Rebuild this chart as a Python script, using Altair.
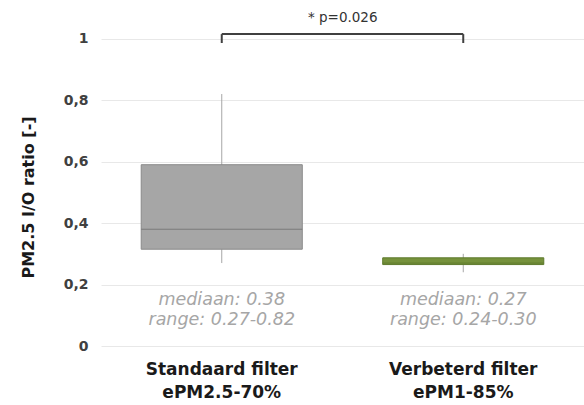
import altair as alt
import pandas as pd

# Box statistics per filter type
groups = ["Standaard filter|ePM2.5-70%", "Verbeterd filter|ePM1-85%"]
q1 = [0.315, 0.265]
q3 = [0.59, 0.287]
median = [0.38, 0.27]
lo = [0.27, 0.24]
hi = [0.82, 0.30]
box_fill = ["#a6a6a6", "#76923c"]
box_stroke = ["#8a8a8a", "#5e7a2c"]
median_color = ["#666666", "#5e7a2c"]
p_label = "* p=0.026"

df = pd.DataFrame({
    "group": groups, "q1": q1, "q3": q3, "median": median,
    "lo": lo, "hi": hi, "fill": box_fill, "stroke": box_stroke,
    "mcol": median_color,
})
df["line1"] = [f"mediaan: {m:.2f}" for m in median]
df["line2"] = [f"range: {a:.2f}-{b:.2f}" for a, b in zip(lo, hi)]

FONT = "DejaVu Sans"

x_scale = alt.Scale(domain=groups, paddingInner=0, paddingOuter=0)
x_axis = alt.Axis(
    title=None, labelExpr="split(datum.label, '|')", labelAngle=0,
    labelFont=FONT, labelFontWeight="bold", labelFontSize=17,
    labelColor="#1a1a1a", labelPadding=15, labelLineHeight=23,
    labelBaseline="top", domain=False, ticks=False, grid=False,
)
x = alt.X("group:N", scale=x_scale, axis=x_axis)

yscale = alt.Scale(domain=[0, 1.1], nice=False, zero=True)
y_axis = alt.Axis(
    values=[0, 0.2, 0.4, 0.6, 0.8, 1.0],
    labelExpr="datum.value == 0 ? '0' : datum.value == 1 ? '1' : replace(format(datum.value, '.1f'), '.', ',')",
    title="PM2.5 I/O ratio [-]", titleFont=FONT, titleFontSize=16,
    titleFontWeight="bold", titleColor="#1a1a1a", titleX=-73, titleY=189,
    titleAngle=-90, titleAlign="center", titleBaseline="middle",
    labelFont=FONT, labelFontSize=14, labelFontWeight="bold",
    labelColor="#404040", labelPadding=13,
    domain=False, ticks=False, grid=True, gridColor="#e8e8e8",
)

base = alt.Chart(df)

whisker = base.mark_rule(color="#a6a6a6", strokeWidth=1).encode(
    x=x, y=alt.Y("lo:Q", scale=yscale, axis=y_axis), y2="hi:Q"
)

box = base.mark_bar(width={"band": 0.667}, strokeWidth=1).encode(
    x=x, y=alt.Y("q1:Q", scale=yscale), y2="q3:Q",
    fill=alt.Fill("fill:N", scale=None),
    stroke=alt.Stroke("stroke:N", scale=None),
)

med = base.mark_tick(orient="horizontal", size=161, thickness=1.2).encode(
    x=x, y=alt.Y("median:Q", scale=yscale),
    color=alt.Color("mcol:N", scale=None),
)

note_style = dict(font=FONT, fontSize=17.5, fontStyle="italic", color="#a6a6a6")
note1 = base.mark_text(**note_style).encode(
    x=x, y=alt.Y(datum=0.15, scale=yscale), text="line1:N"
)
note2 = base.mark_text(**note_style).encode(
    x=x, y=alt.Y(datum=0.083, scale=yscale), text="line2:N"
)

# Significance bracket between the two groups
bracket_df = pd.DataFrame({"a": [groups[0]], "b": [groups[1]], "yb": [1.015]})
ends_df = pd.DataFrame({"group": groups, "y0": [0.986, 0.986], "y1": [1.015, 1.015]})

bar_top = alt.Chart(bracket_df).mark_rule(color="#404040", strokeWidth=2).encode(
    x=alt.X("a:N", scale=x_scale, axis=x_axis),
    x2="b:N",
    y=alt.Y("yb:Q", scale=yscale),
)
bar_ends = alt.Chart(ends_df).mark_rule(color="#404040", strokeWidth=2).encode(
    x=x, y=alt.Y("y0:Q", scale=yscale), y2="y1:Q"
)
p_text = alt.Chart(bracket_df).mark_text(
    font=FONT, fontSize=13.5, color="#333333", dx=121
).encode(
    x=alt.X("a:N", scale=x_scale, axis=x_axis),
    y=alt.Y(datum=1.068, scale=yscale),
    text=alt.value(p_label),
)

chart = alt.layer(
    whisker, box, med, note1, note2, bar_top, bar_ends, p_text
).properties(
    width=483, height=338,
    padding={"left": 101, "top": 8, "right": 0, "bottom": 59},
    autosize=alt.AutoSizeParams(type="none"),
    background="white",
).configure_view(stroke=None)

chart.save("out.html", embed_options={"renderer": "svg", "actions": False})
